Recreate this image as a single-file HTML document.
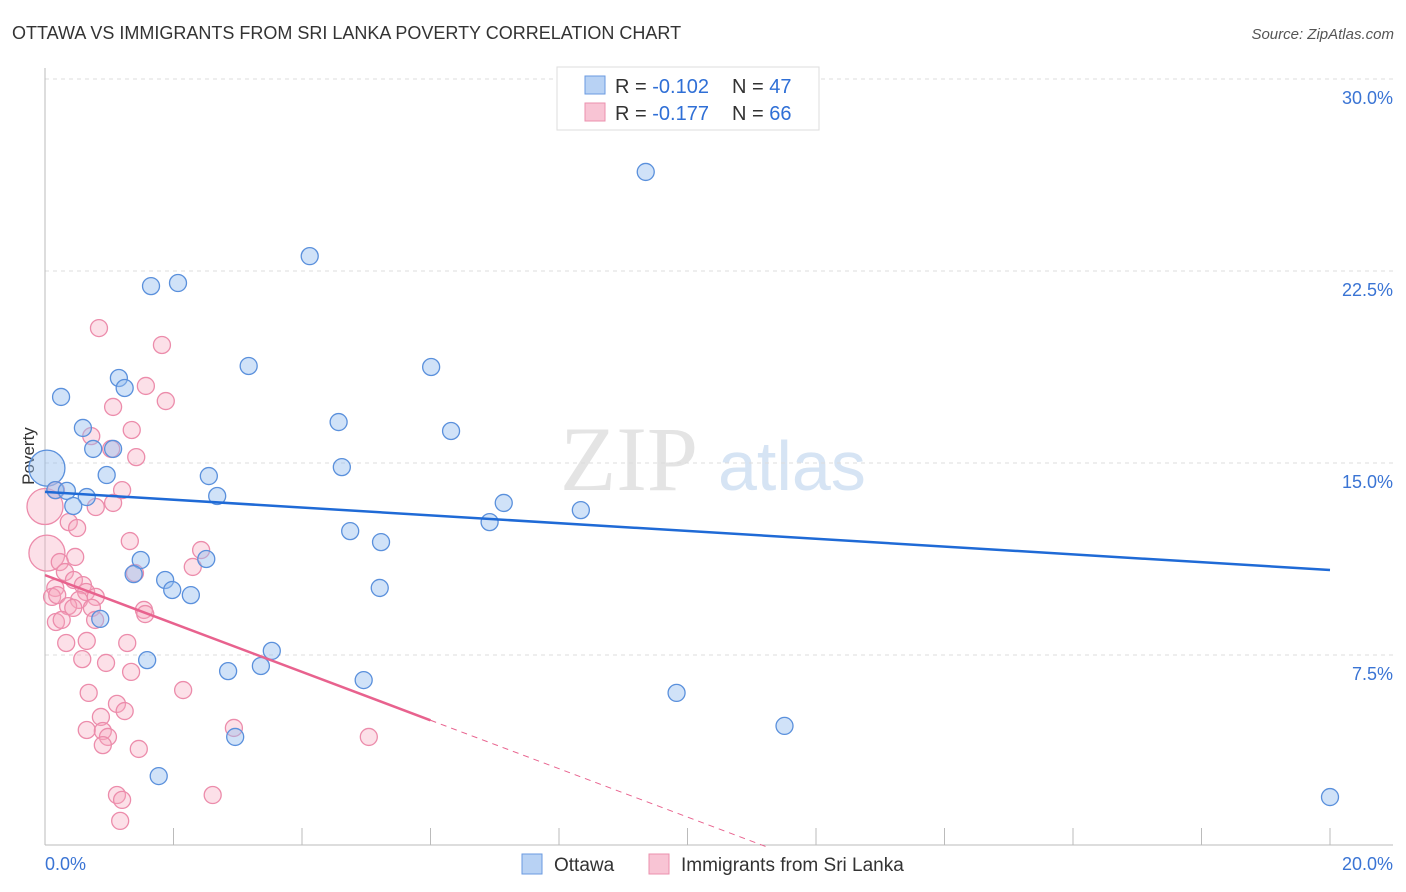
<!DOCTYPE html>
<html><head><meta charset="utf-8"><style>
body{margin:0;background:#fff;font-family:"Liberation Sans",sans-serif;}
#wrap{position:relative;width:1406px;height:892px;overflow:hidden;}
</style></head><body>
<div id="wrap">
<svg id="svg" width="1406" height="892">
<text x="12" y="39" font-size="18" fill="#333">OTTAWA VS IMMIGRANTS FROM SRI LANKA POVERTY CORRELATION CHART</text>
<text x="1394" y="39" font-size="15" fill="#555" font-style="italic" text-anchor="end">Source: ZipAtlas.com</text>
<text x="560" y="490" font-size="92" fill="#e4e4e4" font-family="Liberation Serif">ZIP</text>
<text x="718" y="490" font-size="70" fill="#d6e4f4">atlas</text>
<text x="34" y="456" font-size="17" fill="#333" transform="rotate(-90 34 456)" text-anchor="middle">Poverty</text>
<g id="grid"></g><g id="axes"></g><g id="pts"></g><g id="trend"></g>
<g>
<rect x="557" y="67" width="262" height="63" fill="#fff" stroke="#ddd"/>
<rect x="585" y="76" width="20" height="18" fill="#b8d2f4" stroke="#6a9ae0"/>
<rect x="585" y="103" width="20" height="18" fill="#f8c4d4" stroke="#eb90ae"/>
<text x="615" y="93" font-size="20" fill="#333">R = <tspan fill="#2f6fd6">-0.102</tspan><tspan x="732">N = </tspan><tspan fill="#2f6fd6">47</tspan></text>
<text x="615" y="120" font-size="20" fill="#333">R = <tspan fill="#2f6fd6">-0.177</tspan><tspan x="732">N = </tspan><tspan fill="#2f6fd6">66</tspan></text>
</g>
<g>
<rect x="522" y="854" width="20" height="20" fill="#b8d2f4" stroke="#6a9ae0"/>
<text x="554" y="871" font-size="19" fill="#333">Ottawa</text>
<rect x="649" y="854" width="20" height="20" fill="#f8c4d4" stroke="#eb90ae"/>
<text x="681" y="871" font-size="19" fill="#333">Immigrants from Sri Lanka</text>
</g>
</svg></div>
<script>
const yTicks=[7.5,15,22.5,30];
const yTickLabels=["7.5%","15.0%","22.5%","30.0%"];
const xTickVals=[0,2,4,6,8,10,12,14,16,18,20];
const xEndLabels=["0.0%","20.0%"];
const ottawaX=[11.78,9.35,4.12,1.65,2.07,3.17,6.01,0.25,1.15,1.24,4.57,6.32,0.59,1.06,0.75,4.62,0.96,2.55,0.16,0.34,0.65,2.68,7.14,0.44,6.92,8.34,4.75,5.23,1.49,2.51,1.38,1.87,1.98,2.27,5.21,0.86,3.53,1.59,3.36,2.85,4.96,9.83,11.51,2.96,1.77,20.0];
const ottawaY=[29.37,26.37,23.08,21.91,22.03,18.79,18.75,17.58,18.32,17.93,16.6,16.25,16.37,15.55,15.55,14.84,14.53,14.49,13.94,13.91,13.67,13.71,13.44,13.32,12.69,13.16,12.34,11.91,11.21,11.25,10.66,10.43,10.04,9.84,10.12,8.91,7.66,7.3,7.07,6.87,6.52,6.02,4.73,4.3,2.77,1.95];
const sriX=[0.84,1.82,1.57,1.88,1.06,1.35,0.72,1.03,1.42,1.2,0.17,0.79,1.06,0.37,0.5,1.32,2.43,0.47,0.23,0.31,2.3,1.4,0.16,0.45,0.59,0.64,0.11,0.19,0.79,0.53,0.36,0.44,0.73,1.54,1.56,0.17,0.26,0.78,0.33,0.65,1.28,0.58,0.95,1.34,0.68,2.15,1.12,1.24,0.87,0.65,0.9,2.94,0.98,0.9,1.46,5.04,1.12,1.2,2.61,1.17];
const sriY=[20.27,19.61,18.01,17.42,17.19,16.29,16.05,15.55,15.23,13.94,13.94,13.28,13.44,12.69,12.46,11.95,11.6,11.33,11.13,10.74,10.94,10.7,10.12,10.43,10.23,9.96,9.77,9.84,9.77,9.65,9.41,9.34,9.34,9.26,9.1,8.79,8.87,8.87,7.97,8.05,7.97,7.34,7.19,6.84,6.02,6.13,5.59,5.31,5.08,4.57,4.53,4.65,4.3,3.98,3.83,4.3,2.03,1.84,2.03,1.02];
const bigX=[0.03,0.0,0.03];
const bigY=[14.8,13.3,11.48];
const bigSeries=["o","s","s"];
const ottawaTrend=[13.87,10.82]; // y at x=0 and x=20
const sriTrend=[10.62,-0.945]; // intercept, slope
const NS="http://www.w3.org/2000/svg";
const sx=v=>45+v/20*1285;
const sy=v=>847-v/7.5*192;
function mk(t,a,p){const e=document.createElementNS(NS,t);for(const k in a)e.setAttribute(k,a[k]);document.getElementById(p).appendChild(e);return e;}
yTicks.forEach((v,i)=>{
 const l=mk('line',{x1:45,x2:1393,y1:sy(v),y2:sy(v),stroke:'#ddd','stroke-dasharray':'4,4'},'grid');
 
 
 const t=mk('text',{x:1393,y:sy(v)+25,'font-size':18,fill:'#3a74d4','text-anchor':'end'},'grid');
 t.textContent=yTickLabels[i];
 
 
});
const ax=mk('line',{x1:45,x2:1393,y1:845,y2:845,stroke:'#bbb'},'axes');


const ay=mk('line',{x1:45,x2:45,y1:68,y2:845,stroke:'#bbb'},'axes');


xTickVals.forEach(v=>{
 const l=mk('line',{x1:sx(v),x2:sx(v),y1:828,y2:845,stroke:'#bbb'},'axes');
 
 
});
[[0,'start',45],[20,'end',1393]].forEach((d,i)=>{
 const t=mk('text',{x:d[2],y:870,'font-size':18,fill:'#3a74d4','text-anchor':d[1]},'axes');
 t.textContent=xEndLabels[i];
 
 
});
const BLUE={fill:'rgba(150,190,240,0.45)',stroke:'#5a90dc'};
const PINK={fill:'rgba(245,165,190,0.35)',stroke:'#ec8cab'};
bigX.forEach((x,i)=>{
 const c=bigSeries[i]=='o'?BLUE:PINK;
 const e=mk('circle',{cx:sx(x),cy:sy(bigY[i]),r:18,fill:c.fill,stroke:c.stroke,'stroke-width':1.3},'pts');
 
 
});
sriX.forEach((x,i)=>{
 const e=mk('circle',{cx:sx(x),cy:sy(sriY[i]),r:8.5,fill:PINK.fill,stroke:PINK.stroke,'stroke-width':1.3},'pts');
 
 
});
ottawaX.forEach((x,i)=>{
 const e=mk('circle',{cx:sx(x),cy:sy(ottawaY[i]),r:8.5,fill:BLUE.fill,stroke:BLUE.stroke,'stroke-width':1.3},'pts');
 
 
});
const tb=mk('line',{x1:sx(0),y1:sy(ottawaTrend[0]),x2:sx(20),y2:sy(ottawaTrend[1]),stroke:'#1f6ad6','stroke-width':2.5},'trend');


const sxEnd=6, sxZero=-sriTrend[0]/sriTrend[1];
const tp=mk('line',{x1:sx(0),y1:sy(sriTrend[0]),x2:sx(sxEnd),y2:sy(sriTrend[0]+sriTrend[1]*sxEnd),stroke:'#e8628e','stroke-width':2.5},'trend');


const td=mk('line',{x1:sx(sxEnd),y1:sy(sriTrend[0]+sriTrend[1]*sxEnd),x2:sx(sxZero),y2:sy(0),stroke:'#e8628e','stroke-width':1,'stroke-dasharray':'6,5'},'trend');


</script>
</body></html>
